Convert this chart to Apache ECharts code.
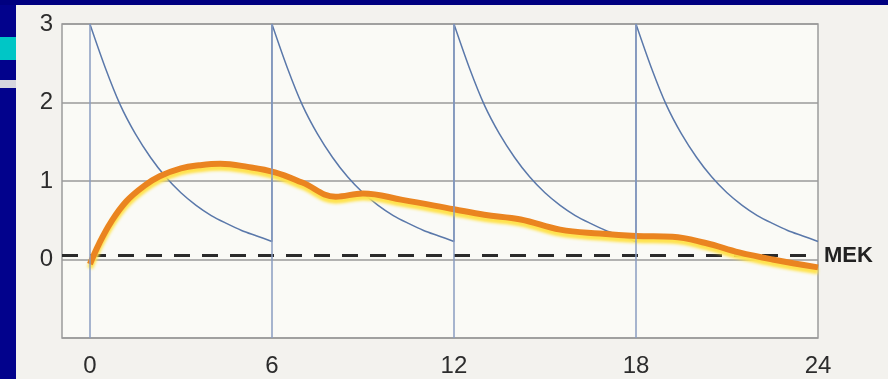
<!DOCTYPE html>
<html>
<head>
<meta charset="utf-8">
<script src="https://cdn.jsdelivr.net/npm/echarts@6/dist/echarts.min.js"></script>
<style>
	html, body { margin: 0; padding: 0; background: #02028c; width: 888px; height: 379px; overflow: hidden; }
	#slideTop { position: absolute; left: 0; top: 0; width: 888px; height: 5px; background: #000080; }
	#barCyan { position: absolute; left: 0; top: 37px; width: 16px; height: 23px; background: #00c6c6; }
	#barGray { position: absolute; left: 0; top: 80px; width: 16px; height: 8px; background: #d6d6de; }
	#chart { position: absolute; left: 16px; top: 5px; width: 872px; height: 374px; background: #f3f2ee; }
</style>
</head>
<body>
<div id="slideTop"></div>
<div id="barCyan"></div>
<div id="barGray"></div>
<div id="chart"></div>
<script>
// hours on x, level on y
var xTicks = [0, 6, 12, 18, 24];
var yTicks = [0, 1, 2, 3];
var doseTimes = [0, 6, 12, 18];
// one decay after a dose, read every half hour (same shape each cycle)
var decayHours = [0, 0.5, 1, 1.5, 2, 2.5, 3, 3.5, 4, 4.5, 5, 5.5, 6];
var decayLevels = [3.0, 2.45, 1.97, 1.6, 1.3, 1.05, 0.85, 0.69, 0.56, 0.46, 0.37, 0.3, 0.23];
// slow curve (orange)
var slowHours = [0, 0.3, 0.7, 1.2, 1.8, 2.3, 3, 3.6, 4.3, 5.2, 6.1, 7, 8.1, 9, 10.3, 12, 13, 14.2, 15.5, 16.8, 18, 19.2, 20.3, 21.4, 22.5, 24];
var slowLevels = [-0.06, 0.2, 0.48, 0.74, 0.94, 1.06, 1.16, 1.2, 1.22, 1.18, 1.11, 0.98, 0.8, 0.84, 0.76, 0.64, 0.57, 0.51, 0.38, 0.33, 0.3, 0.29, 0.21, 0.09, 0.0, -0.1];
// MEK threshold
var mekLevel = 0.05;
var xMin = -0.92, xMax = 24;

var decayData = [];
for (var d = 0; d < doseTimes.length; d++) {
	for (var i = 0; i < decayHours.length; i++) {
		decayData.push([doseTimes[d] + decayHours[i], decayLevels[i]]);
	}
}
var slowData = [];
for (var j = 0; j < slowHours.length; j++) {
	slowData.push([slowHours[j], slowLevels[j]]);
}

var chart = echarts.init(document.getElementById('chart'));
var labelFont = { color: '#2c2c2c', fontSize: 24, fontFamily: 'Liberation Sans, Arial, sans-serif' };
var option = {
	animation: false,
	grid: {
		left: 46, top: 19, right: 70, bottom: 41,
		show: true,
		backgroundColor: '#fafaf6',
		borderColor: '#9c9c9c',
		borderWidth: 1.5
	},
	xAxis: {
		type: 'value',
		min: xMin,
		max: xMax,
		axisLine: { show: false },
		axisTick: { show: false },
		splitLine: { show: false },
		axisLabel: Object.assign({ customValues: xTicks, margin: 16 }, labelFont)
	},
	yAxis: {
		type: 'value',
		min: -1,
		max: 3,
		interval: 1,
		axisLine: { show: false },
		axisTick: { show: false },
		splitLine: { show: true, lineStyle: { color: '#9a9a9a', width: 1.5 } },
		axisLabel: Object.assign({ customValues: yTicks, margin: 9 }, labelFont)
	},
	series: [{
		// vertical grid lines at the dose times
		type: 'line',
		data: [],
		silent: true,
		markLine: {
			symbol: 'none',
			label: { show: false },
			lineStyle: { color: '#8a9cc0', width: 1.5, type: 'solid' },
			data: doseTimes.map(function (t) { return { xAxis: t }; })
		}
	}, {
		name: 'MEK',
		type: 'line',
		data: [[xMin, mekLevel], [xMax, mekLevel]],
		symbol: 'none',
		lineStyle: { color: '#2a2a2a', width: 3, type: [16, 12] },
		endLabel: {
			show: true,
			formatter: 'MEK',
			distance: 6,
			color: '#222',
			fontSize: 22,
			fontWeight: 'bold',
			fontFamily: 'Liberation Sans, Arial, sans-serif'
		}
	}, {
		name: 'decay',
		type: 'line',
		data: decayData,
		symbol: 'none',
		smooth: 0.3,
		lineStyle: { color: '#5a78aa', width: 1.5 }
	}, {
		name: 'slow',
		type: 'line',
		data: slowData,
		symbol: 'none',
		smooth: 0.4,
		lineStyle: {
			color: '#ea8420',
			width: 6,
			shadowColor: '#ffe24a',
			shadowBlur: 3,
			shadowOffsetY: 4
		}
	}]
};
chart.setOption(option);
</script>
</body>
</html>
